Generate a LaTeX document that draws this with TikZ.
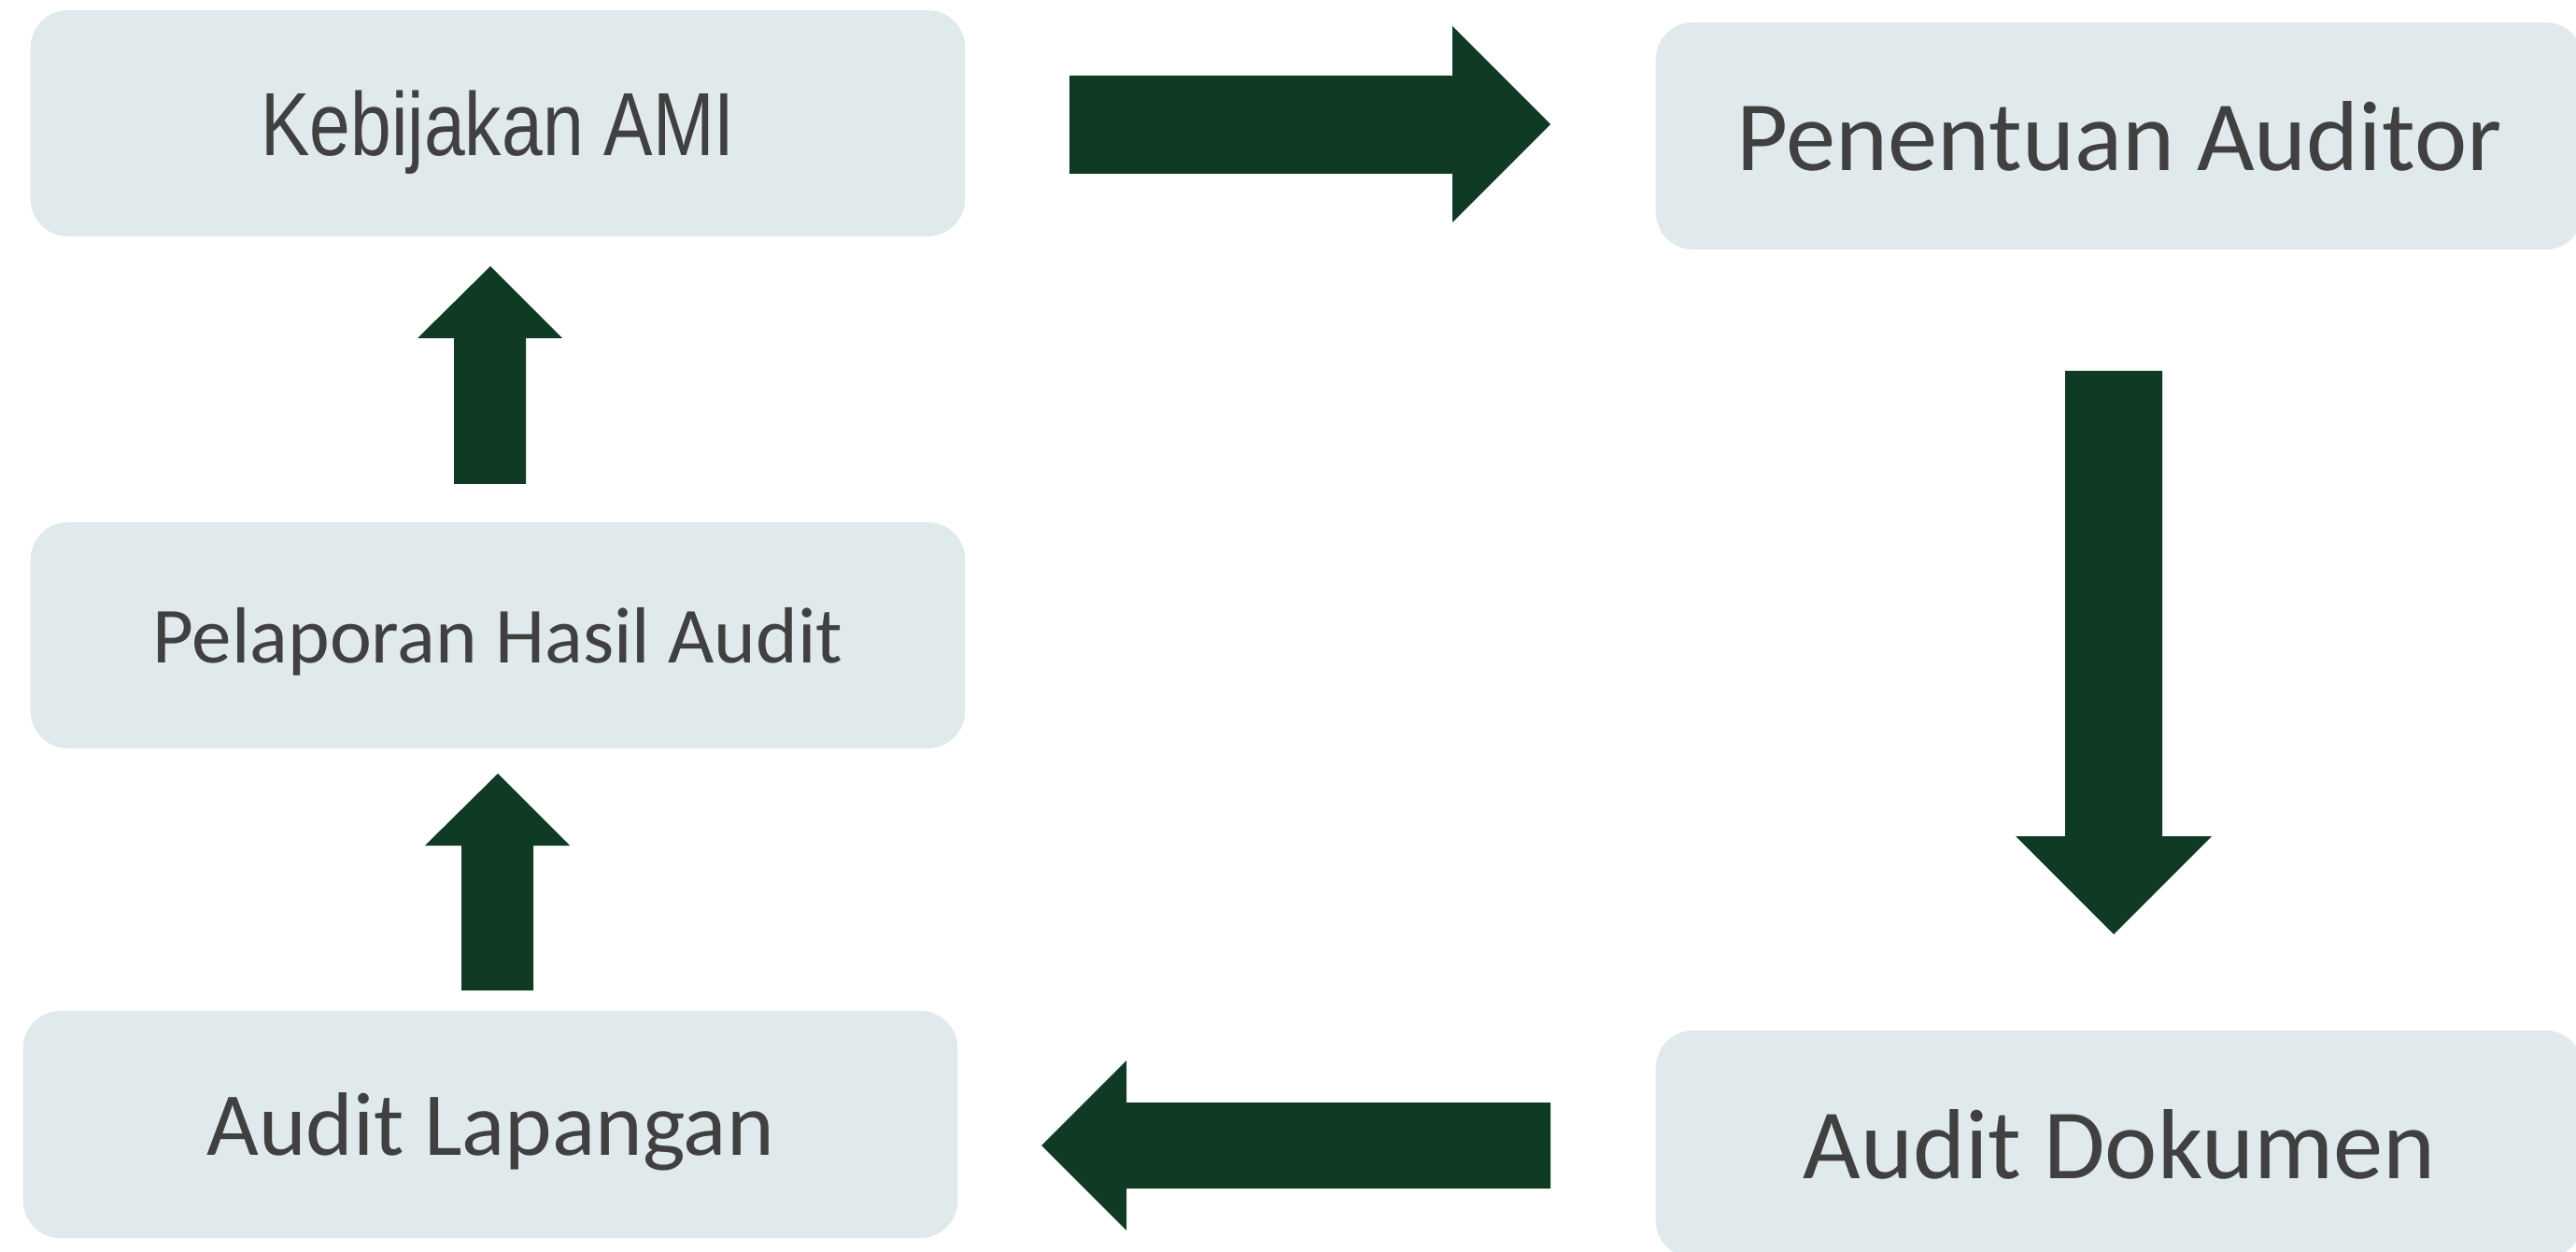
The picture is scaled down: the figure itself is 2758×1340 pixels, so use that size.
\documentclass[tikz,border=0pt]{standalone}
\usepackage{graphicx}
\usepackage{fontspec}
\setmainfont{Carlito}
\newfontfamily\narrowfont{Liberation Sans}
\definecolor{boxfill}{HTML}{E0E9EC}
\definecolor{arrowgreen}{HTML}{0F3A23}
\definecolor{labelgrey}{HTML}{404040}
\tikzset{
  stepbox/.style={fill=boxfill, rounded corners=0.4cm, inner sep=0pt, text=labelgrey, text depth=0pt},
  blockarrow/.style={fill=arrowgreen}
}

\begin{document}
\begin{tikzpicture}[x=0.01cm,y=-0.01cm]
    \useasboundingbox (0,0) rectangle (2758,1340);
    \clip (0,0) rectangle (2758,1340);
    \node[stepbox, minimum width=10cm, minimum height=2.42cm] (kebijakan) at (533,132)
      {\fontsize{27.3}{30}\narrowfont\scalebox{0.82}[1]{Kebijakan AMI}};
    \node[stepbox, minimum width=9.92cm, minimum height=2.43cm] (penentuan) at (2269,145.5)
      {\fontsize{30.3}{34}\selectfont Penentuan Auditor};
    \node[stepbox, minimum width=10cm, minimum height=2.42cm] (pelaporan) at (533,680)
      {\fontsize{24.2}{28}\selectfont Pelaporan Hasil Audit};
    \node[stepbox, minimum width=10cm, minimum height=2.43cm] (lapangan) at (525,1203.5)
      {\fontsize{27.4}{30}\selectfont Audit Lapangan};
    \node[stepbox, minimum width=9.92cm, minimum height=2.43cm] (dokumen) at (2269,1224.5)
      {\fontsize{30.3}{34}\selectfont Audit Dokumen};
    % block arrows
    \fill[blockarrow] (1145,81) -- (1555,81) -- (1555,28) -- (1660,133) -- (1555,238) -- (1555,186) -- (1145,186) -- cycle;
    \fill[blockarrow] (2211,397) -- (2315,397) -- (2315,895) -- (2368,895) -- (2263,1000) -- (2158,895) -- (2211,895) -- cycle;
    \fill[blockarrow] (1660,1180) -- (1206,1180) -- (1206,1135) -- (1115,1226) -- (1206,1317) -- (1206,1272) -- (1660,1272) -- cycle;
    \fill[blockarrow] (494,1060) -- (494,905) -- (455,905) -- (533,828) -- (610,905) -- (571,905) -- (571,1060) -- cycle;
    \fill[blockarrow] (486,518) -- (486,362) -- (447,362) -- (525,285) -- (602,362) -- (563,362) -- (563,518) -- cycle;
\end{tikzpicture}
\end{document}
